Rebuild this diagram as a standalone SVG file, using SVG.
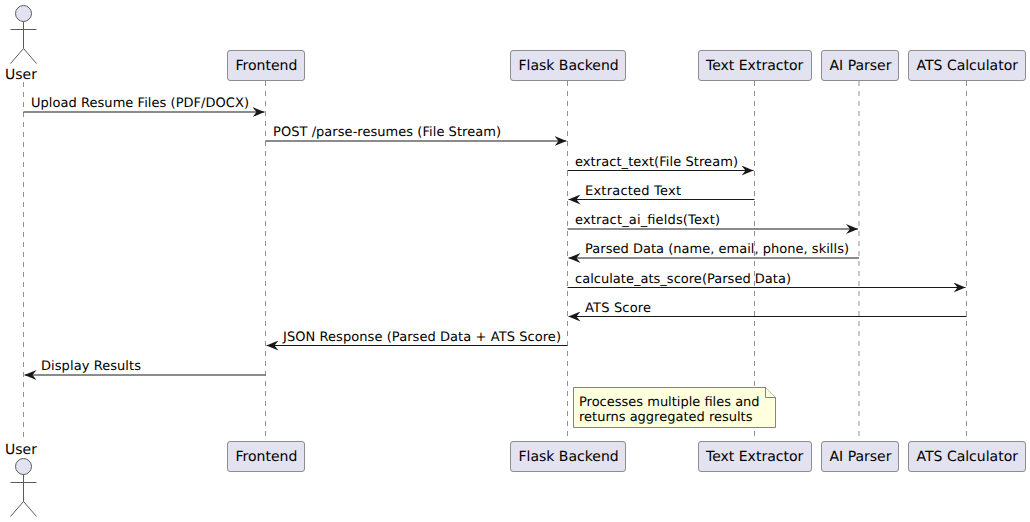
<svg xmlns="http://www.w3.org/2000/svg" width="1030" height="522" viewBox="0 0 1030 522">
<style>
text{font-family:"DejaVu Sans",sans-serif;fill:#000;text-rendering:geometricPrecision}
.p{font-size:14px}
.m{font-size:13px}
.box{fill:#E2E2F0;stroke:#5B5B5B;stroke-width:.5pt}
.life{stroke:#5B5B5B;stroke-width:.5pt;stroke-dasharray:5,5;fill:none}
.msg{stroke:#181818;stroke-width:1.1;fill:none}
.act{fill:none;stroke:#5B5B5B;stroke-width:1}
.head{fill:#E2E2F0;stroke:#5B5B5B;stroke-width:1}
.note{fill:#FEFFDD;stroke:#5B5B5B;stroke-width:.75}
</style>
<defs>
<marker id="arr" markerUnits="userSpaceOnUse" viewBox="0 0 12 10" refX="12" refY="5" markerWidth="12" markerHeight="10" orient="auto"><path d="M0,0 L12,5 L0,10 L4,5 Z" fill="#181818"/></marker>
</defs>
<g id="lifelines">
<line class="life" x1="23.5" y1="82" x2="23.5" y2="441"/>
<line class="life" x1="265.5" y1="81" x2="265.5" y2="441"/>
<line class="life" x1="567.5" y1="81" x2="567.5" y2="441"/>
<line class="life" x1="754.5" y1="81" x2="754.5" y2="441"/>
<line class="life" x1="859" y1="81" x2="859" y2="441"/>
<line class="life" x1="966.5" y1="81" x2="966.5" y2="441"/>
</g>
<g id="connectors">
<line class="msg" x1="23.5" y1="112" x2="264.5" y2="112" marker-end="url(#arr)"/>
<line class="msg" x1="265.5" y1="141" x2="566.5" y2="141" marker-end="url(#arr)"/>
<line class="msg" x1="567.5" y1="170.500" x2="753.5" y2="170.500" marker-end="url(#arr)"/>
<line class="msg" x1="754.5" y1="199.500" x2="568.5" y2="199.500" marker-end="url(#arr)"/>
<line class="msg" x1="567.5" y1="229" x2="858" y2="229" marker-end="url(#arr)"/>
<line class="msg" x1="859" y1="258" x2="568.5" y2="258" marker-end="url(#arr)"/>
<line class="msg" x1="567.5" y1="287.500" x2="965.500" y2="287.500" marker-end="url(#arr)"/>
<line class="msg" x1="966.5" y1="316.500" x2="568.5" y2="316.500" marker-end="url(#arr)"/>
<line class="msg" x1="567.5" y1="345.500" x2="266.5" y2="345.500" marker-end="url(#arr)"/>
<line class="msg" x1="265.5" y1="375" x2="24.5" y2="375" marker-end="url(#arr)"/>
<text class="m" x="31" y="107" textLength="218">Upload Resume Files (PDF/DOCX)</text>
<text class="m" x="273" y="136" textLength="228">POST /parse-resumes (File Stream)</text>
<text class="m" x="575" y="166" textLength="163">extract_text(File Stream)</text>
<text class="m" x="585" y="195" textLength="96">Extracted Text</text>
<text class="m" x="575" y="224" textLength="145">extract_ai_fields(Text)</text>
<text class="m" x="585" y="253" textLength="264">Parsed Data (name, email, phone, skills)</text>
<text class="m" x="575" y="283" textLength="216">calculate_ats_score(Parsed Data)</text>
<text class="m" x="585" y="312" textLength="66">ATS Score</text>
<text class="m" x="283" y="341" textLength="278">JSON Response (Parsed Data + ATS Score)</text>
<text class="m" x="41" y="370" textLength="100">Display Results</text>
</g>
<g id="user-top">
<circle class="head" cx="23.5" cy="13.500" r="8"/>
<path class="act" d="M23.500,21.500V48.500M10.500,29.500H36.500M23.500,48.500L10.500,63.500M23.500,48.500L36.500,63.500"/>
<text class="p" x="5" y="79">User</text>
</g>
<g id="user-bottom">
<text class="p" x="5" y="454">User</text>
<circle class="head" cx="23.5" cy="466.500" r="8"/>
<path class="act" d="M23.500,474.500V501.500M10.500,482.500H36.500M23.500,501.500L10.500,516.500M23.500,501.500L36.500,516.500"/>
</g>
<g id="frontend-top"><rect class="box" x="227.500" y="50.500" width="77" height="30" rx="2.500"/><text class="p" x="235.500" y="70">Frontend</text></g>
<g id="backend-top"><rect class="box" x="510.500" y="50.500" width="115" height="30" rx="2.500"/><text class="p" x="518.500" y="70">Flask Backend</text></g>
<g id="extractor-top"><rect class="box" x="698.500" y="50.500" width="113" height="30" rx="2.500"/><text class="p" x="706" y="70">Text Extractor</text></g>
<g id="parser-top"><rect class="box" x="821.500" y="50.500" width="77" height="30" rx="2.500"/><text class="p" x="829.500" y="70">AI Parser</text></g>
<g id="ats-top"><rect class="box" x="908.500" y="50.500" width="117" height="30" rx="2.500"/><text class="p" x="916.500" y="70">ATS Calculator</text></g>
<g id="frontend-bottom"><rect class="box" x="227.500" y="441.500" width="77" height="30" rx="2.500"/><text class="p" x="235.500" y="461">Frontend</text></g>
<g id="backend-bottom"><rect class="box" x="510.500" y="441.500" width="115" height="30" rx="2.500"/><text class="p" x="518.500" y="461">Flask Backend</text></g>
<g id="extractor-bottom"><rect class="box" x="698.500" y="441.500" width="113" height="30" rx="2.500"/><text class="p" x="706" y="461">Text Extractor</text></g>
<g id="parser-bottom"><rect class="box" x="821.500" y="441.500" width="77" height="30" rx="2.500"/><text class="p" x="829.500" y="461">AI Parser</text></g>
<g id="ats-bottom"><rect class="box" x="908.500" y="441.500" width="117" height="30" rx="2.500"/><text class="p" x="916.500" y="461">ATS Calculator</text></g>
<g id="note">
<path class="note" d="M573.500,387.500H765.500L775.500,397.500V427.500H573.500Z"/>
<path class="note" d="M765.500,387.500V397.500H775.500"/>
<text class="m" x="579" y="406">Processes multiple files and</text>
<text class="m" x="579" y="421">returns aggregated results</text>
</g>
</svg>
